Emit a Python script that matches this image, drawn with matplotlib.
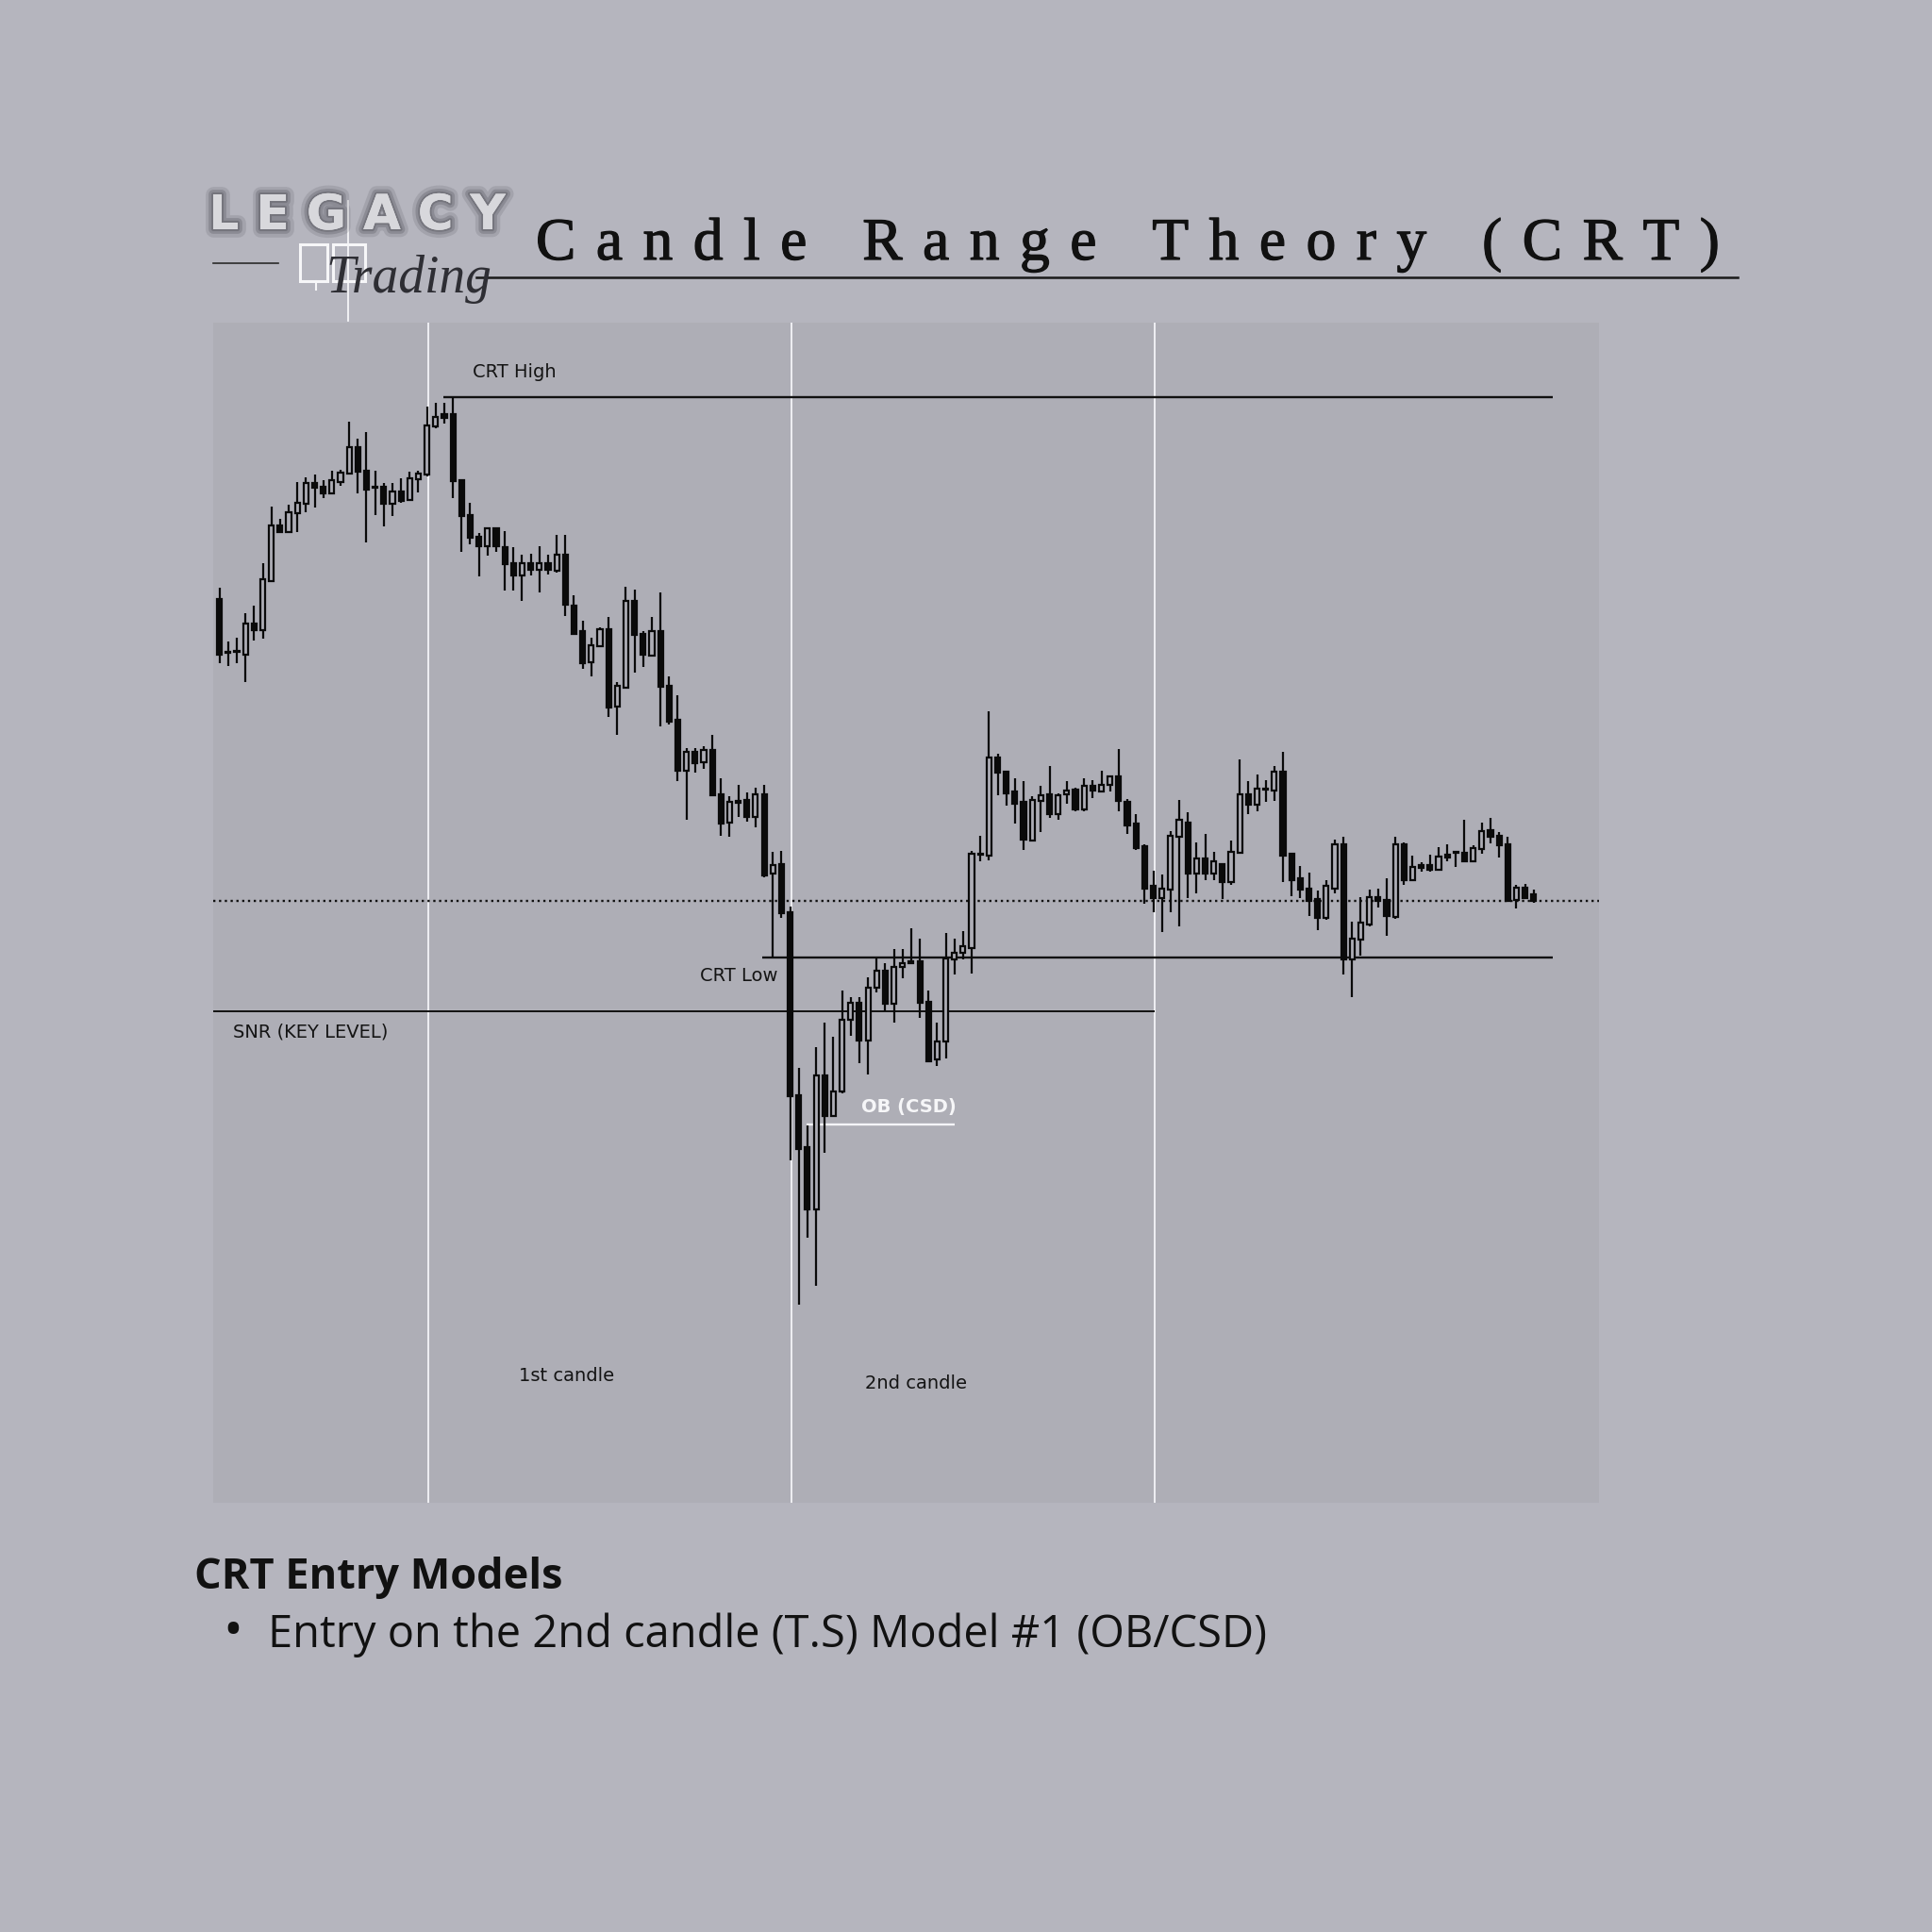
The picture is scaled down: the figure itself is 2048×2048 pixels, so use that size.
import numpy as np
import matplotlib
matplotlib.use('Agg')
import matplotlib.pyplot as plt
import matplotlib.patheffects as pe
from matplotlib import font_manager, ft2font

# candle data (price points), one candle per index
opens = [965, 909, 909, 906, 939, 932, 984, 1043, 1036, 1056, 1066, 1088, 1084, 1077, 1089, 1098,
         1126, 1101, 1084, 1084, 1066, 1079, 1070, 1092, 1097, 1148, 1161, 1161, 1091, 1054, 1031,
         1021, 1040, 1020, 1003, 990, 1003, 996, 1003, 995, 1012, 958, 931, 898, 915, 933, 851,
         871, 963, 928, 905, 931, 873, 837, 783, 803, 792, 805, 758, 728, 751, 752, 734, 758, 674,
         684, 633, 439, 384, 318, 460, 417, 443, 519, 537, 497, 553, 571, 536, 575, 581, 581, 538,
         477, 496, 583, 590, 595, 694, 693, 797, 782, 761, 750, 709, 751, 758, 737, 758, 763, 742,
         767, 761, 768, 777, 750, 727, 703, 661, 648, 657, 713, 728, 674, 690, 674, 684, 665, 696,
         758, 747, 763, 762, 782, 695, 669, 658, 647, 627, 658, 705, 583, 604, 620, 649, 646, 628,
         705, 667, 683, 683, 678, 694, 696, 696, 687, 700, 720, 714, 705, 646, 659, 652]
highs = [977, 920, 924, 950, 958, 1003, 1063, 1050, 1065, 1089, 1094, 1097, 1091, 1101, 1102, 1153,
         1135, 1142, 1101, 1088, 1088, 1093, 1100, 1101, 1169, 1173, 1173, 1179, 1092, 1067, 1035,
         1041, 1041, 1037, 1020, 1012, 1013, 1021, 1012, 1033, 1033, 969, 942, 924, 935, 946, 877,
         978, 975, 931, 946, 972, 883, 863, 807, 807, 809, 821, 775, 756, 768, 760, 765, 768, 697,
         698, 639, 468, 407, 490, 516, 501, 550, 543, 543, 564, 584, 579, 594, 594, 616, 605, 550,
         516, 611, 605, 613, 698, 714, 846, 801, 783, 775, 772, 756, 767, 788, 759, 772, 765, 775,
         773, 783, 778, 806, 753, 737, 705, 677, 673, 719, 752, 739, 707, 716, 697, 685, 709, 795,
         772, 779, 773, 788, 803, 696, 682, 675, 656, 667, 710, 713, 623, 649, 657, 658, 669, 713,
         707, 693, 686, 694, 702, 705, 697, 731, 704, 728, 733, 718, 713, 662, 663, 657]
lows = [897, 894, 897, 877, 921, 923, 983, 1035, 1035, 1036, 1057, 1062, 1072, 1076, 1085, 1097,
        1077, 1025, 1054, 1042, 1053, 1067, 1069, 1078, 1095, 1146, 1151, 1072, 1015, 1023, 989,
        1011, 1015, 974, 974, 963, 990, 972, 991, 993, 947, 927, 891, 883, 914, 840, 821,
        870, 887, 893, 904, 830, 832, 772, 731, 781, 785, 756, 714, 713, 734, 729, 723, 670, 585,
        627, 370, 217, 288, 237, 378, 416, 441, 502, 473, 461, 548, 528, 516, 563, 578, 521, 474,
        470, 478, 567, 583, 568, 687, 688, 757, 746, 727, 699, 708, 718, 733, 731, 748, 740, 740,
        754, 760, 761, 740, 716, 699, 642, 633, 612, 633, 618, 648, 653, 667, 667, 647, 662, 695,
        737, 740, 750, 751, 665, 650, 648, 629, 614, 625, 653, 567, 543, 587, 618, 638, 608, 626,
        662, 666, 676, 676, 677, 687, 681, 686, 686, 695, 706, 691, 644, 637, 647, 643]
closes = [906, 908, 910, 939, 932, 986, 1043, 1036, 1057, 1067, 1088, 1083, 1077, 1091, 1099, 1126,
          1100, 1081, 1083, 1066, 1079, 1069, 1093, 1098, 1149, 1158, 1157, 1090, 1053, 1030, 1021,
          1040, 1021, 1002, 990, 1003, 996, 1003, 996, 1012, 959, 928, 897, 916, 933, 850, 873,
          963, 927, 906, 931, 872, 835, 783, 803, 791, 805, 757, 727, 750, 749, 734, 758, 672, 683,
          632, 438, 382, 318, 460, 417, 443, 519, 537, 497, 553, 571, 536, 575, 579, 579, 537, 475,
          496, 584, 590, 597, 695, 695, 797, 781, 759, 748, 710, 752, 757, 737, 757, 762, 742, 767,
          762, 768, 777, 751, 725, 701, 658, 648, 658, 714, 731, 674, 690, 674, 687, 665, 697, 758,
          747, 764, 764, 782, 693, 667, 657, 645, 627, 661, 705, 583, 605, 622, 649, 645, 629, 705,
          667, 681, 680, 678, 692, 691, 697, 687, 701, 719, 713, 704, 645, 659, 648, 645]

crt_high = 1179
crt_low = 585
snr_level = 528
last_price = closes[-1]
ob_level = 408
ob_span = (67.9, 85.0)
crt_high_span = (25.9, 154.2)
crt_low_span = (62.8, 154.2)
snr_end = 108.15
candle_dividers = [24.15, 66.15, 108.15]

W = 2048
DPI = 100
page_bg = '#b5b5be'
panel_bg = '#aeaeb6'

fig = plt.figure(figsize=(W / DPI, W / DPI), dpi=DPI)
fig.patch.set_facecolor(page_bg)


def fx(x):
    return x / W


def fy(y):
    return 1 - y / W


def spaced_text(x_px, y_px, s, size, tracking, family, weight='normal', **kw):
    prop = font_manager.FontProperties(family=family, weight=weight)
    f = ft2font.FT2Font(font_manager.findfont(prop))
    f.set_size(size, DPI)
    x = x_px
    for ch in s:
        fig.text(fx(x), fy(y_px), ch, fontproperties=prop, fontsize=size,
                 ha='left', va='baseline', **kw)
        g = f.load_char(ord(ch))
        x += g.linearHoriAdvance / 65536 + tracking


# chart panel
ax = fig.add_axes([fx(226), fy(1593), 1469 / W, 1251 / W])
ax.set_facecolor(panel_bg)
for s in ax.spines.values():
    s.set_visible(False)
ax.set_xticks([])
ax.set_yticks([])
ax.set_xlim(-0.73, 159.55)
ax.set_ylim(7, 1258)

for d in candle_dividers:
    ax.axvline(d, color='#f4f4f8', lw=1.3, zorder=1)

ax.hlines(crt_high, *crt_high_span, color='#111111', lw=1.7, zorder=2)
ax.hlines(crt_low, *crt_low_span, color='#111111', lw=1.7, zorder=2)
ax.hlines(snr_level, -0.73, snr_end, color='#111111', lw=1.4, zorder=2)
ax.axhline(last_price, color='#111111', lw=1.7, ls=(0, (1, 1.6)), zorder=2)
ax.hlines(ob_level, *ob_span, color='#f4f4f8', lw=1.7, zorder=2)

x = np.arange(len(opens))
o = np.array(opens, dtype=float)
c = np.array(closes, dtype=float)
up = c > o
ax.vlines(x, lows, highs, color='#0a0a0a', lw=1.6, zorder=3)
ax.bar(x, np.abs(c - o), bottom=np.minimum(o, c), width=0.56,
       color=np.where(up, panel_bg, '#0a0a0a'), edgecolor='#0a0a0a', linewidth=1.6, zorder=4)

lbl = dict(fontsize=14, color='#141414', family='DejaVu Sans', zorder=5)
ax.text(29.3, 1206, 'CRT High', ha='left', va='center', **lbl)
ax.text(64.6, 566, 'CRT Low', ha='right', va='center', **lbl)
ax.text(1.56, 506, 'SNR (KEY LEVEL)', ha='left', va='center', **lbl)
ax.text(40.1, 141, '1st candle', ha='center', va='center', **lbl)
ax.text(80.6, 133, '2nd candle', ha='center', va='center', **lbl)
ax.text(79.7, 426, 'OB (CSD)', ha='center', va='center', fontsize=14, color='#f6f6f8',
        family='DejaVu Sans', weight='bold', zorder=5)

# title
spaced_text(568, 275, 'Candle Range Theory (CRT)', 45.7, 21.5, 'Liberation Serif', color='#111111',
            path_effects=[pe.withStroke(linewidth=0.9, foreground='#111111')])
fig.add_artist(plt.Line2D([fx(505), fx(1842)], [fy(294), fy(294)], color='#1a1a1a', lw=1.8))

# logo
shadow = [pe.withStroke(linewidth=12, foreground='#55555d', alpha=0.18),
          pe.withStroke(linewidth=7, foreground='#55555d', alpha=0.3),
          pe.withStroke(linewidth=3, foreground='#606068', alpha=0.5), pe.Normal()]
spaced_text(221, 243, 'LEGACY', 37, 18, 'DejaVu Sans', weight='bold', color='#d8d8dc',
            path_effects=shadow)
fig.add_artist(plt.Line2D([fx(226), fx(295)], [fy(279), fy(279)], color='#2a2a2a', lw=1.2))
for x0, x1 in [(318, 347), (353, 387)]:
    fig.add_artist(plt.Rectangle((fx(x0), fy(298)), (x1 - x0) / W, (298 - 259) / W,
                                 fill=False, edgecolor='#f6f6f8', lw=2.2))
fig.add_artist(plt.Line2D([fx(335), fx(335)], [fy(298), fy(307)], color='#f6f6f8', lw=1.5))
fig.add_artist(plt.Line2D([fx(369), fx(369)], [fy(213), fy(340)], color='#f6f6f8', lw=1.3))
fig.text(fx(345), fy(310), 'Trading', fontsize=40, family='Liberation Serif', style='italic',
         color='#2e2e34', ha='left', va='baseline')

# bottom text
fig.text(fx(206), fy(1684), 'CRT Entry Models', fontsize=32.5, family='Open Sans',
         weight='bold', color='#111111', ha='left', va='baseline')
fig.text(fx(247), fy(1732), '\u2022', fontsize=40, family='Open Sans', color='#111111',
         ha='center', va='center')
fig.text(fx(284), fy(1746), 'Entry on the 2nd candle (T.S) Model #1 (OB/CSD)', fontsize=33.8,
         family='Open Sans', color='#111111', ha='left', va='baseline')

plt.savefig('out.png', dpi=DPI, facecolor=page_bg)
